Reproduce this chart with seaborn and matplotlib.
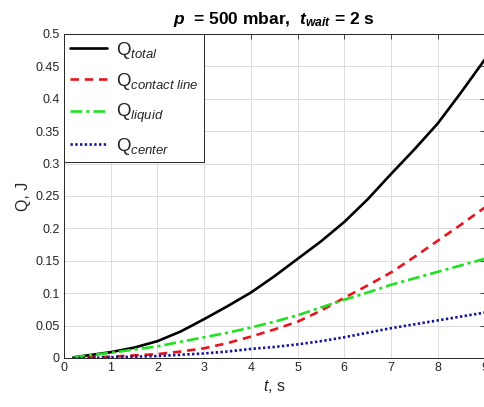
import matplotlib
matplotlib.use("Agg")
import matplotlib.pyplot as plt
import seaborn as sns
import numpy as np

# ---- data ----
t = [0.2, 0.5, 1, 1.5, 2, 2.5, 3, 3.5, 4, 4.5, 5, 5.5, 6, 6.5, 7, 7.5, 8, 8.5, 9]
q_total = [0.001, 0.004, 0.009, 0.016, 0.026, 0.041, 0.060, 0.080, 0.101, 0.126, 0.153,
           0.180, 0.210, 0.245, 0.284, 0.322, 0.362, 0.410, 0.460]
q_contact = [0.000, 0.001, 0.002, 0.004, 0.006, 0.010, 0.015, 0.023, 0.033, 0.044, 0.056,
             0.073, 0.093, 0.112, 0.132, 0.156, 0.181, 0.206, 0.232]
q_liquid = [0.001, 0.004, 0.008, 0.013, 0.018, 0.025, 0.032, 0.039, 0.047, 0.056, 0.066,
            0.078, 0.090, 0.101, 0.113, 0.123, 0.133, 0.143, 0.153]
q_center = [0.000, 0.000, 0.001, 0.002, 0.003, 0.005, 0.007, 0.010, 0.014, 0.017, 0.021,
            0.026, 0.032, 0.039, 0.046, 0.052, 0.058, 0.064, 0.070]

labels = [r"Q$_{\mathit{total}}$", r"Q$_{\mathit{contact\ line}}$",
          r"Q$_{\mathit{liquid}}$", r"Q$_{\mathit{center}}$"]
colors = ["#000000", "#e8141e", "#22e022", "#141496"]
styles = ["-", (0, (3.2, 2.2)), (0, (4.5, 1.5, 1.2, 1.5)), (0, (0.9, 0.9))]

x_ticks = list(range(0, 10))
y_ticks = [0, 0.05, 0.1, 0.15, 0.2, 0.25, 0.3, 0.35, 0.4, 0.45, 0.5]
y_ticklabels = ["0", "0.05", "0.1", "0.15", "0.2", "0.25", "0.3", "0.35", "0.4", "0.45", "0.5"]

sns.set_theme(style="white")
plt.rcParams["font.family"] = ["Liberation Sans", "DejaVu Sans"]
plt.rcParams["mathtext.fontset"] = "custom"
plt.rcParams["mathtext.rm"] = "Liberation Sans"
plt.rcParams["mathtext.it"] = "Liberation Sans:italic"
plt.rcParams["mathtext.bf"] = "Liberation Sans:bold"
plt.rcParams["mathtext.bfit"] = "Liberation Sans:italic:bold"

fig = plt.figure(figsize=(4.85, 4.07), dpi=100)
ax = fig.add_axes([0.132, 0.1204, 0.867, 0.7961])

series = [q_total, q_contact, q_liquid, q_center]
for vals, lab, col, ls in zip(series, labels, colors, styles):
    sns.lineplot(x=t, y=vals, ax=ax, color=col, linestyle=ls, linewidth=1.9, label=lab)

ax.set_xlim(0, 9)
ax.set_ylim(0, 0.5)
ax.set_xticks(x_ticks)
ax.set_yticks(y_ticks)
ax.set_yticklabels(y_ticklabels)
ax.grid(True, color="#dcdcdc", linewidth=0.7)
ax.set_axisbelow(True)
tc = "#262626"
ax.tick_params(direction="in", length=3.5, width=0.6, colors=tc, labelsize=9,
               top=True, right=True, pad=3)
for s in ax.spines.values():
    s.set_color(tc)
    s.set_linewidth(0.7)

ax.set_xlabel(r"$\mathit{t}$, s", fontsize=11.5, color=tc, labelpad=3)
ax.set_ylabel("Q, J", fontsize=11.5, color=tc, labelpad=3)
ax.set_title(r"$\mathbfit{p}$  = 500 mbar,  $\mathbfit{t}_{\mathbfit{wait}}$ = 2 s",
             fontsize=12.5, fontweight="bold", color="#000000", pad=7)

leg = ax.legend(loc="upper left", borderaxespad=0, fontsize=13.5, handlelength=2.0,
                labelspacing=0.55, handletextpad=0.45, borderpad=0.3,
                fancybox=False, framealpha=1, edgecolor=tc)
leg.get_frame().set_linewidth(0.7)

fig.savefig("out.png", dpi=100)
